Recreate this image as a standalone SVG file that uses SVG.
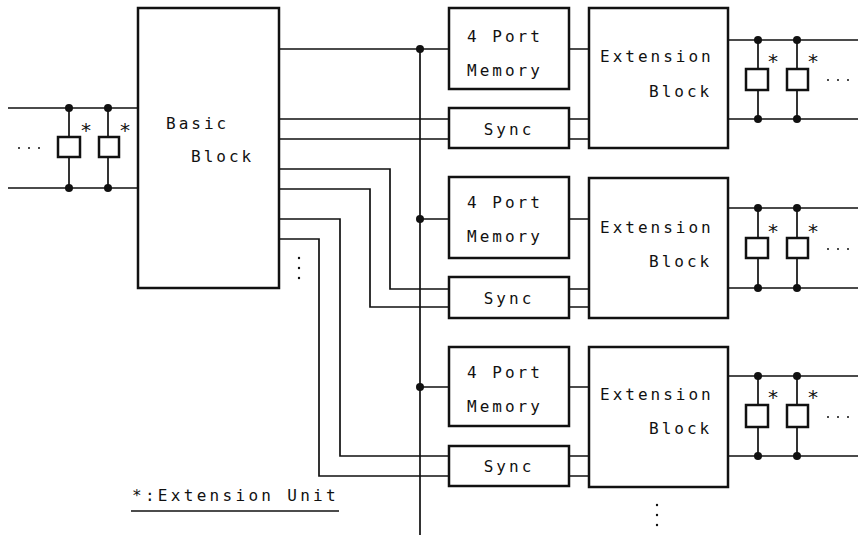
<svg xmlns="http://www.w3.org/2000/svg" width="858" height="537" viewBox="0 0 858 537">
<style>
.box{fill:none;stroke:#111;stroke-width:2.5}
.ln{fill:none;stroke:#111;stroke-width:1.7}
.dot{fill:#111}
text{font-family:"DejaVu Sans Mono","Liberation Mono",monospace;font-size:16px;letter-spacing:3px;fill:#111}
.ast{font-size:20px;letter-spacing:0;text-anchor:middle}
</style>
<rect width="858" height="537" fill="#fff"/>
<g id="connectors">
<path class="ln" d="M8 108H138M8 188H138M69 108V137M69 157V188M108 108V137M108 157V188"/>
<path class="ln" d="M279 49H449M420 49V535M420 219H449M420 387H449"/>
<path class="ln" d="M279 119H449M279 139H449"/>
<path class="ln" d="M279 169H390V289H449M279 189H370V307H449"/>
<path class="ln" d="M279 219H340V456H449M279 239H319V476H449"/>
<path class="ln" d="M569 49H589M569 119H589M569 139H589"/>
<path class="ln" d="M569 219H589M569 289H589M569 307H589"/>
<path class="ln" d="M569 387H589M569 456H589M569 476H589"/>
<path class="ln" d="M728 40H858M728 119H858M758 40V69M758 90V119M797 40V69M797 90V119"/>
<path class="ln" d="M728 208H858M728 288H858M758 208V238M758 258V288M797 208V238M797 258V288"/>
<path class="ln" d="M728 376H858M728 456H858M758 376V405M758 427V456M797 376V405M797 427V456"/>
<g class="dot">
<circle cx="69" cy="108" r="4"/><circle cx="108" cy="108" r="4"/><circle cx="69" cy="188" r="4"/><circle cx="108" cy="188" r="4"/>
<circle cx="420" cy="49" r="4"/><circle cx="420" cy="219" r="4"/><circle cx="420" cy="387" r="4"/>
<circle cx="758" cy="40" r="4"/><circle cx="797" cy="40" r="4"/><circle cx="758" cy="119" r="4"/><circle cx="797" cy="119" r="4"/>
<circle cx="758" cy="208" r="4"/><circle cx="797" cy="208" r="4"/><circle cx="758" cy="288" r="4"/><circle cx="797" cy="288" r="4"/>
<circle cx="758" cy="376" r="4"/><circle cx="797" cy="376" r="4"/><circle cx="758" cy="456" r="4"/><circle cx="797" cy="456" r="4"/>
</g>
<g class="dot">
<circle cx="299" cy="258" r="1.2"/><circle cx="299" cy="268" r="1.2"/><circle cx="299" cy="278" r="1.2"/>
<circle cx="657" cy="505" r="1.2"/><circle cx="657" cy="515" r="1.2"/><circle cx="657" cy="525" r="1.2"/>
<circle cx="19" cy="148" r="1"/><circle cx="29" cy="148" r="1"/><circle cx="39" cy="148" r="1"/>
<circle cx="828" cy="80" r="1"/><circle cx="838" cy="80" r="1"/><circle cx="848" cy="80" r="1"/>
<circle cx="828" cy="249" r="1"/><circle cx="838" cy="249" r="1"/><circle cx="848" cy="249" r="1"/>
<circle cx="828" cy="417" r="1"/><circle cx="838" cy="417" r="1"/><circle cx="848" cy="417" r="1"/>
</g>
</g>
<g id="basic-block">
<rect class="box" x="138" y="8" width="141" height="280"/>
<text x="166" y="129">Basic</text>
<text x="191" y="162">Block</text>
</g>
<g id="ext-units-left">
<rect class="box" x="58" y="137" width="22" height="20"/>
<rect class="box" x="99" y="137" width="20" height="20"/>
<text class="ast" x="86" y="137">*</text>
<text class="ast" x="125" y="137">*</text>
</g>
<g id="memory-1">
<rect class="box" x="449" y="8" width="120" height="81"/>
<text x="467" y="42">4 Port</text>
<text x="467" y="76">Memory</text>
</g>
<g id="sync-1">
<rect class="box" x="449" y="108" width="120" height="40"/>
<text x="509" y="135" text-anchor="middle">Sync</text>
</g>
<g id="extension-1">
<rect class="box" x="589" y="8" width="139" height="140"/>
<text x="600" y="62">Extension</text>
<text x="649" y="97">Block</text>
</g>
<g id="ext-units-1">
<rect class="box" x="746" y="69" width="22" height="21"/>
<rect class="box" x="787" y="69" width="21" height="21"/>
<text class="ast" x="773" y="68">*</text>
<text class="ast" x="813" y="68">*</text>
</g>
<g id="memory-2">
<rect class="box" x="449" y="177" width="120" height="81"/>
<text x="467" y="208">4 Port</text>
<text x="467" y="242">Memory</text>
</g>
<g id="sync-2">
<rect class="box" x="449" y="277" width="120" height="41"/>
<text x="509" y="304" text-anchor="middle">Sync</text>
</g>
<g id="extension-2">
<rect class="box" x="589" y="178" width="139" height="140"/>
<text x="600" y="233">Extension</text>
<text x="649" y="267">Block</text>
</g>
<g id="ext-units-2">
<rect class="box" x="746" y="238" width="22" height="20"/>
<rect class="box" x="787" y="238" width="21" height="20"/>
<text class="ast" x="773" y="238">*</text>
<text class="ast" x="813" y="238">*</text>
</g>
<g id="memory-3">
<rect class="box" x="449" y="347" width="120" height="79"/>
<text x="467" y="378">4 Port</text>
<text x="467" y="412">Memory</text>
</g>
<g id="sync-3">
<rect class="box" x="449" y="446" width="120" height="40"/>
<text x="509" y="472" text-anchor="middle">Sync</text>
</g>
<g id="extension-3">
<rect class="box" x="589" y="347" width="139" height="140"/>
<text x="600" y="400">Extension</text>
<text x="649" y="434">Block</text>
</g>
<g id="ext-units-3">
<rect class="box" x="746" y="405" width="22" height="22"/>
<rect class="box" x="787" y="405" width="21" height="22"/>
<text class="ast" x="773" y="404">*</text>
<text class="ast" x="813" y="404">*</text>
</g>
<g id="legend">
<text x="132" y="501" style="letter-spacing:3.3px">*:Extension Unit</text>
<path class="ln" d="M131 511H339"/>
</g>
</svg>
